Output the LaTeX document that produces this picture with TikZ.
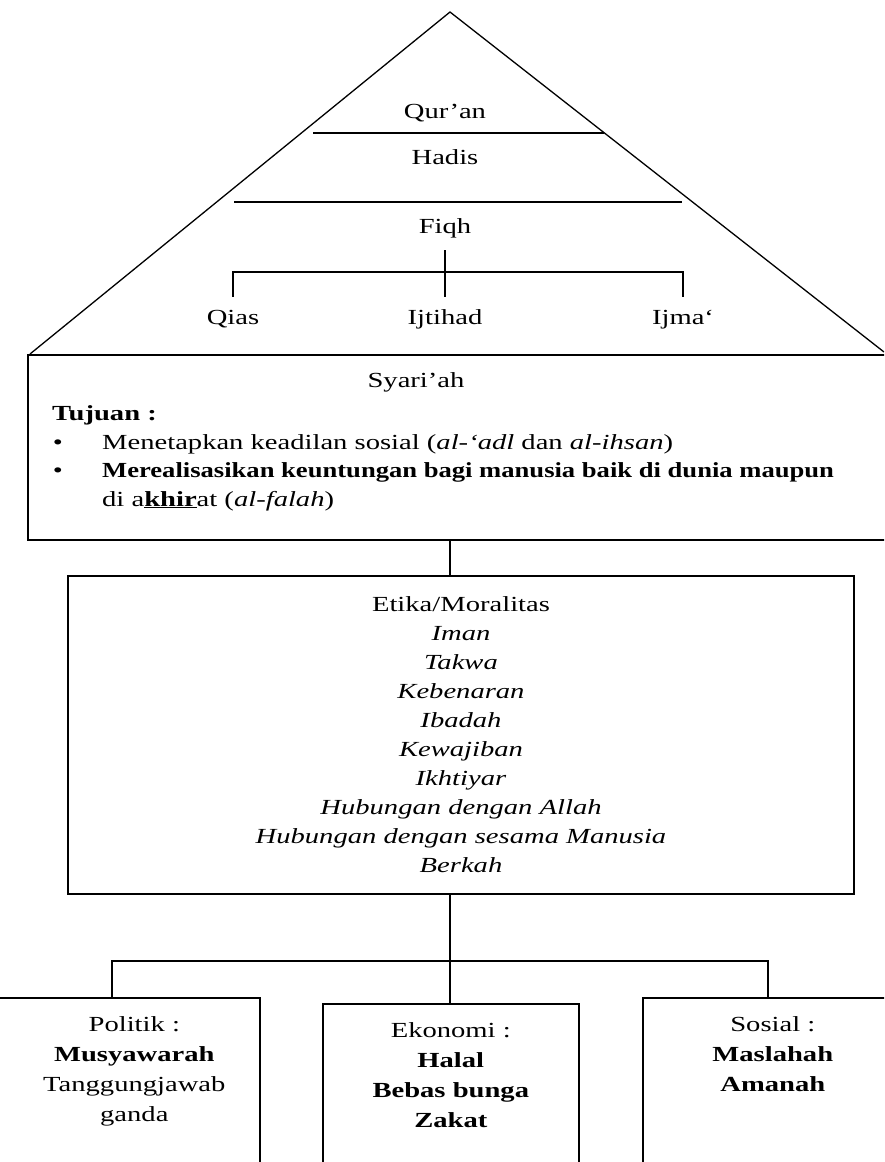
\documentclass[tikz,border=0pt]{standalone}
\usepackage{fontspec}
\usepackage{graphicx}
\setmainfont{Liberation Serif}[FakeStretch=1.33]
\usetikzlibrary{positioning}

\tikzset{
  box/.style={draw, line width=1.6pt, inner sep=0pt},
  link/.style={line width=1.3pt},
  lbl/.style={font=\fontsize{21.5}{29}\selectfont, inner sep=0pt},
  row/.style={lbl, text height=15pt, text depth=5pt},
  tree/.style={row, inner ysep=12pt}
}

\begin{document}
\begin{tikzpicture}[x=1pt,y=-1pt]
      \clip (0,0) rectangle (884,1162);
      \fill[white] (0,0) rectangle (884,1162);
      \coordinate (apex) at (450,12);
      \coordinate (baseL) at (30,354);
      \coordinate (baseR) at (884,352);
      \draw[link] (baseL) -- (apex) -- (baseR);
      \draw[link] (313,133) -- (604,133);
      \draw[link] (234,202) -- (682,202);
      \node[row] (quran) at (445,113) {Qur'an};
      \node[row] (hadis) at (445,159) {Hadis};
      \node[tree] (fiqh) at (445,228) {Fiqh};
      \node[tree] (qias) at (233,319) {Qias};
      \node[tree] (ijtihad) at (445,319) {Ijtihad};
      \node[tree] (ijma) at (683,319) {Ijma`};
      \coordinate (fork) at (445,272);
      \begin{scope}[link]
        \draw (fiqh) -- (ijtihad);
        \draw (qias) |- (fork) -| (ijma);
      \end{scope}
      \node[box, anchor=north west, minimum width=880pt, minimum height=185pt] (syariah) at (27,354) {};
      \node[row] (syariahtitle) at (416,382) {Syari'ah};
      \node[row, anchor=west] (tujuan) at (52,415) {\textbf{Tujuan :}};
      \node[row] (dot1) at (58,444) {\textbullet};
      \node[row] (dot2) at (58,472) {\textbullet};
      \node[row, anchor=west] (tujuan1) at (102,444) {Menetapkan keadilan sosial (\textit{al-`adl} dan \textit{al-ihsan})};
      \node[row, anchor=west] (tujuan2) at (102,472) {\scalebox{0.93}[1]{\textbf{Merealisasikan keuntungan bagi manusia baik di dunia maupun}}};
      \node[row, anchor=west] (tujuan3) at (102,501) {di a\textbf{\underline{khir}}at (\textit{al-falah})};
      \coordinate (spine) at (450,0);
      \node[box, lbl, align=center, minimum width=786pt, minimum height=318pt] (etika) at (461,735)
        {Etika/Moralitas\\ \textit{Iman}\\ \textit{Takwa}\\ \textit{Kebenaran}\\ \textit{Ibadah}\\ \textit{Kewajiban}\\
         \textit{Ikhtiyar}\\ \textit{Hubungan dengan Allah}\\ \textit{Hubungan dengan sesama Manusia}\\ \textit{Berkah}};
      \draw[link] (syariah.south -| spine) -- (etika.north -| spine);
      \node[box, anchor=north west, minimum width=263pt, minimum height=200pt] (politik) at (-4,997) {};
      \node[box, anchor=north west, minimum width=256pt, minimum height=200pt] (ekonomi) at (322,1003) {};
      \node[box, anchor=north west, minimum width=260pt, minimum height=200pt] (sosial) at (642,997) {};
      \node[lbl, align=center, font=\fontsize{21.5}{30}\selectfont, below=19pt of politik.north, xshift=6pt] (politiktxt)
        {Politik :\\ \textbf{Musyawarah}\\ Tanggungjawab\\ ganda};
      \node[lbl, align=center, font=\fontsize{21.5}{30}\selectfont, below=19pt of ekonomi.north] (ekonomitxt)
        {Ekonomi :\\ \textbf{Halal}\\ \textbf{Bebas bunga}\\ \textbf{Zakat}};
      \node[lbl, align=center, font=\fontsize{21.5}{30}\selectfont, below=19pt of sosial.north] (sosialtxt)
        {Sosial :\\ \textbf{Maslahah}\\ \textbf{Amanah}};
      \coordinate (lfork) at (112,961);
      \coordinate (rfork) at (768,961);
      \begin{scope}[link]
        \draw (etika.south -| spine) -- (ekonomi.north -| spine);
        \draw (politik.north -| lfork) -- (lfork) -- (rfork) -- (sosial.north -| rfork);
      \end{scope}
    \end{tikzpicture}
\end{document}
